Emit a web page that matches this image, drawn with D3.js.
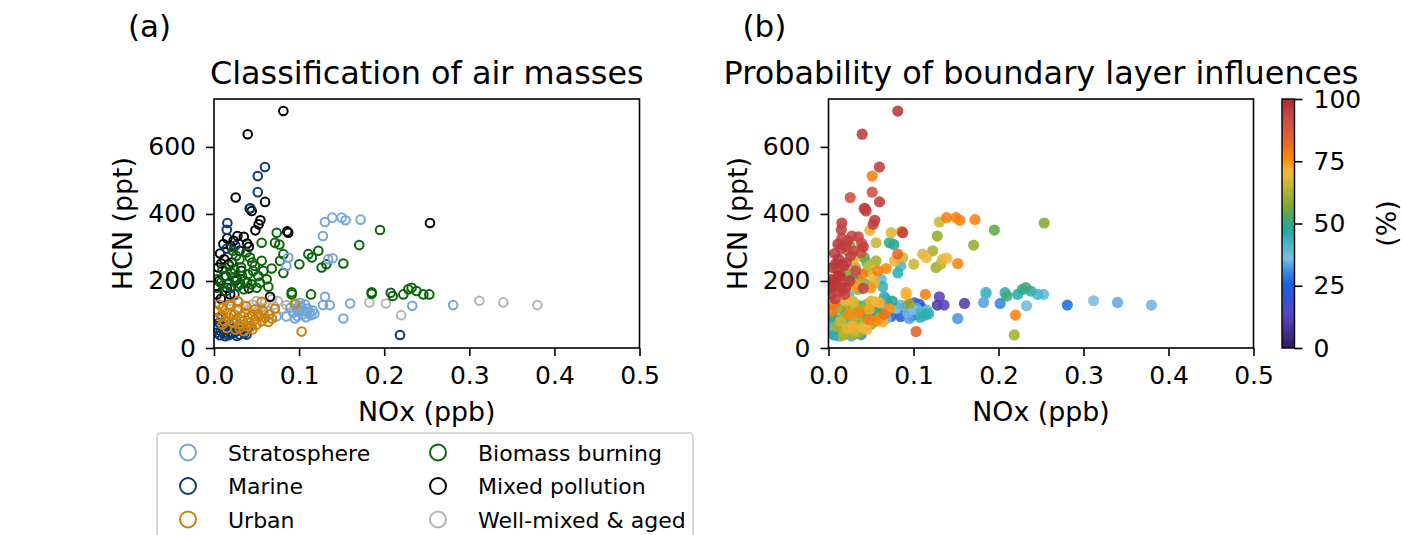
<!DOCTYPE html>
<html>
<head>
<meta charset="utf-8">
<script src="https://cdn.jsdelivr.net/npm/d3@7"></script>
<style>
  html, body { margin: 0; padding: 0; background: #fff; }
  svg { display: block; font-family: "DejaVu Sans", sans-serif; }
</style>
</head>
<body>
<svg id="chart" width="1402" height="535"></svg>
<script>
// ---------- data: [NOx (ppb), HCN (ppt), probability of boundary-layer influence (%)] ----------
const wellMixed = [
  [0.1825,136,33],[0.202,133,30],[0.220,98,77],[0.3118,141,36],[0.340,136,34],[0.380,128,35],
  [0.045,130,60],[0.050,140,68],[0.055,120,45],[0.060,135,72],[0.065,110,40],[0.070,128,35],
  [0.075,140,48],[0.080,118,38],[0.040,115,62],[0.058,105,34],[0.020,140,72],[0.030,135,66],[0.035,125,50],
  [0.068,145,44],[0.052,112,36],[0.085,128,40]
];
const mixedPollution = [
  [0.0815,707,97],[0.0396,638,96],[0.0255,449,90],[0.0600,436,96],[0.0443,409,95],[0.0420,416,94],
  [0.0545,381,96],[0.0525,369,95],[0.0486,351,72],[0.0873,344,96],[0.0860,348,74],[0.2538,373,58],
  [0.0071,282,95],[0.0156,327,94],[0.0275,334,93],[0.0350,332,94],[0.0110,310,96],[0.0200,303,95],
  [0.0390,312,92],[0.0410,302,95],[0.0085,252,96],[0.0170,250,95],[0.0210,255,93],[0.0120,265,97],
  [0.0410,178,94],[0.0080,147,95],[0.0030,160,96],[0.0658,153,45],[0.0250,200,96],[0.0320,230,92],
  [0.0060,200,97],[0.0150,180,96],[0.0050,240,96],[0.0230,320,95],[0.0300,290,94],[0.0140,215,97],
  [0.0020,185,96],[0.0190,160,94]
];
const marine = [
  [0.0599,540,95],[0.0514,513,78],[0.0514,465,90],[0.0427,417,94],[0.0157,373,95],[0.0150,353,95],
  [0.0250,306,60],[0.0150,296,94],[0.2186,39,62],[0.0384,40,30],[0.0200,180,95],[0.0240,160,40],
  [0.004,60,35],[0.006,75,40],[0.008,50,33],[0.010,65,62],[0.012,45,36],[0.014,80,66],[0.016,55,45],
  [0.018,70,30],[0.020,42,62],[0.022,58,68],[0.025,48,35],[0.028,65,72],[0.030,40,62],[0.033,55,40],
  [0.036,45,60],[0.005,90,50],[0.009,95,34],[0.013,35,40],[0.017,38,63],[0.040,60,70],
  [0.003,45,37],[0.007,38,46],[0.011,52,34],[0.019,48,64],[0.027,36,33],[0.031,52,66]
];
const biomass = [
  [0.1951,352,55],[0.1707,307,60],[0.1520,252,77],[0.1226,290,62],[0.1109,280,68],[0.115,270,70],
  [0.1265,240,62],[0.132,250,64],[0.1003,250,66],[0.0737,344,68],[0.0717,314,50],[0.0768,309,48],
  [0.056,314,66],[0.0815,280,82],[0.0776,260,72],[0.0678,237,76],[0.0815,224,45],[0.0619,205,40],
  [0.0638,183,44],[0.0913,160,72],[0.0913,166,70],[0.114,160,78],[0.1853,162,40],[0.1853,166,42],
  [0.2077,165,45],[0.210,155,52],[0.2225,160,46],[0.2283,175,48],[0.2322,180,52],[0.238,170,45],
  [0.246,160,42],[0.253,160,40],
  [0.004,205,96],[0.008,195,95],[0.012,215,97],[0.016,190,94],[0.020,225,60],[0.024,210,55],
  [0.028,185,72],[0.032,240,65],[0.036,200,50],[0.040,220,78],[0.044,190,45],[0.048,245,66],
  [0.052,215,70],[0.056,260,62],[0.030,265,68],[0.026,275,95],[0.018,245,96],[0.010,235,95],
  [0.035,175,60],[0.045,255,42],[0.050,180,75],[0.038,285,90],[0.022,290,62],[0.058,230,78],
  [0.014,170,96],[0.003,180,97],[0.042,270,55],[0.054,195,68],
  [0.027,205,54],[0.033,215,46],[0.039,195,64],[0.046,230,58],[0.024,235,40],[0.031,190,74]
];
const stratosphere = [
  [0.1304,376,66],[0.139,389,78],[0.150,389,78],[0.1546,381,77],[0.1723,383,78],[0.128,334,60],
  [0.1343,265,68],[0.1394,268,70],[0.0873,270,66],[0.0850,245,42],[0.1304,153,12],[0.128,128,10],
  [0.136,128,12],[0.160,133,10],[0.152,88,32],[0.233,126,38],[0.281,128,27],
  [0.090,120,22],[0.093,105,35],[0.096,130,12],[0.098,95,20],[0.100,115,36],[0.102,125,10],
  [0.104,100,22],[0.106,110,35],[0.108,92,45],[0.110,118,14],[0.112,105,40],[0.114,98,45],
  [0.116,112,38],[0.095,88,33],[0.101,135,15],[0.107,130,24],[0.118,102,45],[0.099,108,24],
  [0.085,94,22],[0.0735,94,22],[0.103,120,34],[0.109,108,42],[0.097,118,26]
];
const urban = [
  [0.103,49,85],[0.056,138,70],[0.0717,117,75],[0.095,133,60],
  [0.004,110,78],[0.008,95,34],[0.010,120,62],[0.012,80,36],[0.015,105,36],[0.018,90,61],
  [0.020,125,58],[0.022,75,38],[0.024,100,76],[0.026,85,40],[0.028,115,62],[0.030,70,60],
  [0.032,95,35],[0.034,80,63],[0.036,105,77],[0.038,65,34],[0.040,90,35],[0.042,75,60],
  [0.045,100,46],[0.048,85,78],[0.050,70,60],[0.053,95,40],[0.056,80,76],[0.060,90,62],
  [0.064,78,72],[0.068,88,38],[0.015,60,62],[0.025,55,36],[0.035,50,61],[0.045,55,70],
  [0.018,130,45],[0.028,140,68],[0.006,130,80],[0.038,125,44],[0.048,115,73],[0.058,110,52],
  [0.065,100,80],[0.010,70,33],[0.030,60,63],[0.044,65,37],[0.020,100,55],[0.052,102,48]
];

const categoryNames = ["Stratosphere","Marine","Urban","Biomass burning","Mixed pollution","Well-mixed & aged"];
const categoryColors = ["#74a6d6","#0b3a72","#cc8008","#0a640a","#000000","#b4b4b4"];
const categoryData = [stratosphere, marine, urban, biomass, mixedPollution, wellMixed];
const drawOrder = [5, 4, 1, 3, 0, 2];   // indices into categories, bottom to top

const xTicks = [0.0, 0.1, 0.2, 0.3, 0.4, 0.5];
const yTicks = [0, 200, 400, 600];
const cbTicks = [0, 25, 50, 75, 100];
const cmapPos = [0, 0.07, 0.13, 0.20, 0.26, 0.31, 0.36, 0.42, 0.47, 0.52, 0.56, 0.62, 0.67, 0.71, 0.76, 0.81, 0.87, 0.93, 1];
const cmapCol = ["#2c1c5c","#473190","#5b44c0","#3552d6","#1466e0","#3a8ee8","#7cbbe4","#4ab6c8","#1fa8a6",
                 "#3fa874","#74a834","#a5b02e","#d2b834","#f9b63c","#ff8a04","#f06c1c","#de5636","#c84848","#b02a2a"];

// ---------- layout ----------
const svg = d3.select("#chart");
const yTop = 99, yBot = 348, yMax = 743;
const panels = [{x0: 214, x1: 639.5, label: "(a)", title: "Classification of air masses"},
                {x0: 828.5, x1: 1253.5, label: "(b)", title: "Probability of boundary layer influences"}];
const FONT = "DejaVu Sans";
const TICKFS = 25, LABFS = 26.8, TITLEFS = 31.9, PANELFS = 31, LEGFS = 22;

const cmap = d3.scaleLinear().domain(cmapPos.map(p => p * 100)).range(cmapCol).interpolate(d3.interpolateRgb).clamp(true);

panels.forEach((p, pi) => {
  const x = d3.scaleLinear().domain([0, 0.5]).range([p.x0, p.x1]);
  const y = d3.scaleLinear().domain([0, yMax]).range([yBot, yTop]);
  const g = svg.append("g");

  const cid = "clip" + pi;
  svg.append("clipPath").attr("id", cid).append("rect")
    .attr("x", p.x0).attr("y", yTop).attr("width", p.x1 - p.x0).attr("height", yBot - yTop);
  const plot = g.append("g").attr("clip-path", `url(#${cid})`);

  if (pi === 0) {
    drawOrder.forEach(ci => {
      plot.append("g").selectAll("circle").data(categoryData[ci]).join("circle")
        .attr("cx", d => x(d[0])).attr("cy", d => y(d[1])).attr("r", 4.3)
        .attr("fill", "none").attr("stroke", categoryColors[ci]).attr("stroke-width", 2);
    });
  } else {
    const all = [];
    drawOrder.forEach(ci => categoryData[ci].forEach(d => all.push(d)));
    all.sort((a, b) => a[2] - b[2]);
    plot.append("g").selectAll("circle").data(all).join("circle")
      .attr("cx", d => x(d[0])).attr("cy", d => y(d[1])).attr("r", 5.6)
      .attr("fill", d => cmap(d[2])).attr("fill-opacity", 0.88);
  }

  const xAxis = d3.axisBottom(x).tickValues(xTicks).tickFormat(d3.format(".1f")).tickSizeOuter(0).tickSize(8).tickPadding(10);
  const yAxis = d3.axisLeft(y).tickValues(yTicks).tickFormat(d3.format("d")).tickSizeOuter(0).tickSize(8).tickPadding(10);
  const gx = g.append("g").attr("transform", `translate(0,${yBot})`).call(xAxis);
  const gy = g.append("g").attr("transform", `translate(${p.x0},0)`).call(yAxis);
  [gx, gy].forEach(a => {
    a.select(".domain").remove();
    a.selectAll("line").attr("stroke", "#000").attr("stroke-width", 1.6);
    a.selectAll("text").attr("font-family", FONT).attr("font-size", TICKFS).attr("fill", "#000");
  });
  gx.selectAll("text").attr("dy", "0.71em");

  g.append("rect").attr("x", p.x0).attr("y", yTop).attr("width", p.x1 - p.x0).attr("height", yBot - yTop)
    .attr("fill", "none").attr("stroke", "#000").attr("stroke-width", 1.6);

  g.append("text").attr("x", (p.x0 + p.x1) / 2).attr("y", 421).attr("text-anchor", "middle")
    .attr("font-family", FONT).attr("font-size", LABFS).text("NOx (ppb)");
  g.append("text").attr("transform", `translate(${p.x0 - 82},${(yTop + yBot) / 2}) rotate(-90)`)
    .attr("text-anchor", "middle").attr("font-family", FONT).attr("font-size", LABFS).text("HCN (ppt)");
  g.append("text").attr("x", (p.x0 + p.x1) / 2).attr("y", 84).attr("text-anchor", "middle")
    .attr("font-family", FONT).attr("font-size", TITLEFS).text(p.title);
  g.append("text").attr("x", p.x0 - 86).attr("y", 37)
    .attr("font-family", FONT).attr("font-size", PANELFS).text(p.label);
});

// ---------- colorbar ----------
const cbX0 = 1282, cbX1 = 1294.5;
const defs = svg.append("defs");
const grad = defs.append("linearGradient").attr("id", "cbgrad").attr("x1", 0).attr("y1", 1).attr("x2", 0).attr("y2", 0);
d3.range(0, 101, 2).forEach(v => grad.append("stop").attr("offset", v + "%").attr("stop-color", cmap(v)));
svg.append("rect").attr("x", cbX0).attr("y", yTop).attr("width", cbX1 - cbX0).attr("height", yBot - yTop)
  .attr("fill", "url(#cbgrad)").attr("stroke", "#000").attr("stroke-width", 1.4);
const cbScale = d3.scaleLinear().domain([0, 100]).range([yBot, yTop]);
const cbAxis = d3.axisRight(cbScale).tickValues(cbTicks).tickSize(8).tickPadding(11).tickSizeOuter(0);
const gcb = svg.append("g").attr("transform", `translate(${cbX1},0)`).call(cbAxis);
gcb.select(".domain").remove();
gcb.selectAll("line").attr("stroke", "#000").attr("stroke-width", 1.6);
gcb.selectAll("text").attr("font-family", FONT).attr("font-size", TICKFS).attr("fill", "#000");
svg.append("text").attr("transform", `translate(1396,${(yTop + yBot) / 2}) rotate(-90)`)
  .attr("text-anchor", "middle").attr("font-family", FONT).attr("font-size", LABFS).text("(%)");

// ---------- legend ----------
const lg = svg.append("g");
lg.append("rect").attr("x", 157).attr("y", 433).attr("width", 536).attr("height", 130).attr("rx", 4)
  .attr("fill", "#fff").attr("stroke", "#cccccc").attr("stroke-width", 1.5);
categoryNames.forEach((name, i) => {
  const col = Math.floor(i / 3), row = i % 3;
  const mx = col === 0 ? 188 : 438, tx = col === 0 ? 228 : 478;
  const cy = 452.5 + row * 33.5;
  lg.append("circle").attr("cx", mx).attr("cy", cy).attr("r", 8).attr("fill", "none")
    .attr("stroke", categoryColors[i]).attr("stroke-width", 2);
  lg.append("text").attr("x", tx).attr("y", cy + 8).attr("font-family", FONT).attr("font-size", LEGFS).text(name);
});
</script>
</body>
</html>
